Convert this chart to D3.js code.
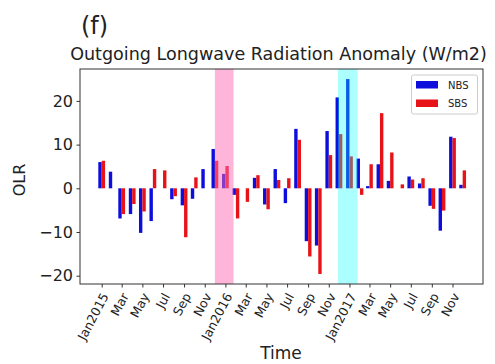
<!DOCTYPE html>
<html lang="en">
<head>
<meta charset="UTF-8">
<title>OLR Anomaly</title>
<script src="https://d3js.org/d3.v7.min.js"></script>
<style>
  body { margin: 0; background: #fff; font-family: "DejaVu Sans", sans-serif; }
  svg text { fill: #222; }
</style>
</head>
<body>
<div id="chart"></div>
<script>
// monthly anomalies, Jan 2015 .. Dec 2017
const months = d3.timeMonth.range(new Date(2015, 0, 1), new Date(2018, 0, 1));

const nbs = [
  6.0, 3.8, -6.9, -5.9, -10.2, -7.5, 0, -2.5, -3.9, -2.4, 4.4, 9.0,
  3.3, -1.5, 0, 2.4, -3.7, 4.4, -3.4, 13.6, -12.1, -13.1, 13.1, 20.8,
  25.0, 6.8, 0.5, 5.5, 1.7, 0, 2.7, 1.1, -4.0, -9.7, 11.8, 0.8
];
const sbs = [
  6.3, 0, -5.9, -3.6, -5.3, 4.4, 4.1, -1.8, -11.2, 2.5, 0, 6.3,
  5.1, -6.9, -3.1, 3.0, -4.8, 1.9, 2.3, 11.1, -15.6, -19.6, 7.6, 12.4,
  7.3, -1.5, 5.5, 17.2, 8.2, 0.9, 2.0, 2.3, -4.7, -5.1, 11.5, 4.1
];

const yTicks = [-20, -10, 0, 10, 20];
const xTickDates = d3.timeMonth.every(2).range(new Date(2015, 0, 1), new Date(2018, 0, 1));
const xTickLabels = ["Jan2015", "Mar", "May", "Jul", "Sep", "Nov",
                     "Jan2016", "Mar", "May", "Jul", "Sep", "Nov",
                     "Jan2017", "Mar", "May", "Jul", "Sep", "Nov"];

// highlighted periods
const spans = [
  { from: new Date(2015, 11, 1), to: new Date(2016, 0, 25), color: "#ff69b4", opacity: 0.5 },
  { from: new Date(2016, 10, 28), to: new Date(2017, 0, 25), color: "#00ffff", opacity: 0.33 }
];

const series = [
  { name: "NBS", values: nbs, color: "#0d0ddc", shift: -10 },
  { name: "SBS", values: sbs, color: "#e81318", shift: 0 }
];

const W = 495, H = 364;
const plotL = 80, plotR = 483, plotT = 69, plotB = 284;

const svg = d3.select("#chart").append("svg")
  .attr("width", W).attr("height", H);

const x = d3.scaleTime()
  .domain([new Date(2014, 9, 29), new Date(2018, 0, 30)])
  .range([plotL, plotR]);

const y = d3.scaleLinear()
  .domain([-21.9, 27.3])
  .range([plotB, plotT]);

// bars: each 10 days wide, NBS just before the month start, SBS just after
series.forEach(s => {
  svg.append("g")
    .selectAll("rect")
    .data(months.map((m, i) => ({ date: m, v: s.values[i] })))
    .join("rect")
    .attr("x", d => x(d3.timeDay.offset(d.date, s.shift)))
    .attr("width", d => x(d3.timeDay.offset(d.date, s.shift + 10)) - x(d3.timeDay.offset(d.date, s.shift)))
    .attr("y", d => y(Math.max(0, d.v)))
    .attr("height", d => Math.abs(y(d.v) - y(0)))
    .attr("fill", s.color);
});

// shaded periods drawn over the bars
svg.append("g")
  .selectAll("rect")
  .data(spans)
  .join("rect")
  .attr("x", d => x(d.from))
  .attr("width", d => x(d.to) - x(d.from))
  .attr("y", plotT)
  .attr("height", plotB - plotT)
  .attr("fill", d => d.color)
  .attr("fill-opacity", d => d.opacity);

// y axis
const yAxis = svg.append("g")
  .attr("transform", `translate(${plotL},0)`)
  .call(d3.axisLeft(y).tickValues(yTicks).tickSize(3.5).tickPadding(3.5).tickFormat(d => d < 0 ? "\u2212" + Math.abs(d) : d));
yAxis.select(".domain").remove();
yAxis.selectAll("line").attr("stroke", "#333");
yAxis.selectAll("text").style("font-size", "16px").style("font-family", "DejaVu Sans").attr("fill", "#222");

// x axis
const xAxis = svg.append("g")
  .attr("transform", `translate(0,${plotB})`)
  .call(d3.axisBottom(x).tickValues(xTickDates).tickSize(3.5).tickFormat((d, i) => xTickLabels[i]));
xAxis.select(".domain").remove();
xAxis.selectAll("line").attr("stroke", "#333");
xAxis.selectAll("text")
  .attr("y", 0).attr("dy", "0.35em")
  .attr("transform", "translate(3,10) rotate(-62)")
  .style("text-anchor", "end")
  .style("font-size", "12.5px")
  .style("font-family", "DejaVu Sans")
  .attr("fill", "#222");

// frame
svg.append("rect")
  .attr("x", plotL).attr("y", plotT)
  .attr("width", plotR - plotL).attr("height", plotB - plotT)
  .attr("fill", "none").attr("stroke", "#333").attr("stroke-width", 1);

// legend
const lg = svg.append("g");
lg.append("rect")
  .attr("x", 411.5).attr("y", 75).attr("width", 66).attr("height", 39)
  .attr("fill", "#fff").attr("fill-opacity", 0.8)
  .attr("stroke", "#ccc").attr("stroke-width", 1).attr("rx", 2);
series.forEach((s, i) => {
  lg.append("rect")
    .attr("x", 416).attr("y", 81 + i * 18.5).attr("width", 22).attr("height", 7.5)
    .attr("fill", s.color);
  lg.append("text")
    .attr("x", 448).attr("y", 85 + i * 18.5).attr("dy", "0.35em")
    .style("font-size", "10px")
    .text(s.name);
});

// titles
const title = svg.append("text")
  .attr("x", 278.5).attr("y", 60)
  .attr("text-anchor", "middle")
  .style("font-size", "16px")
  .text("Outgoing Longwave Radiation Anomaly (W/m2)");
const tw = title.node().getComputedTextLength();
title.style("font-size", (16 * 417 / tw) + "px");

svg.append("text")
  .attr("x", 81).attr("y", 34)
  .style("font-size", "24px")
  .text("(f)");

svg.append("text")
  .attr("x", 281).attr("y", 359)
  .attr("text-anchor", "middle")
  .style("font-size", "17px")
  .text("Time");

svg.append("text")
  .attr("transform", "translate(25,180) rotate(-90)")
  .attr("text-anchor", "middle")
  .style("font-size", "16px")
  .text("OLR");
</script>
</body>
</html>
